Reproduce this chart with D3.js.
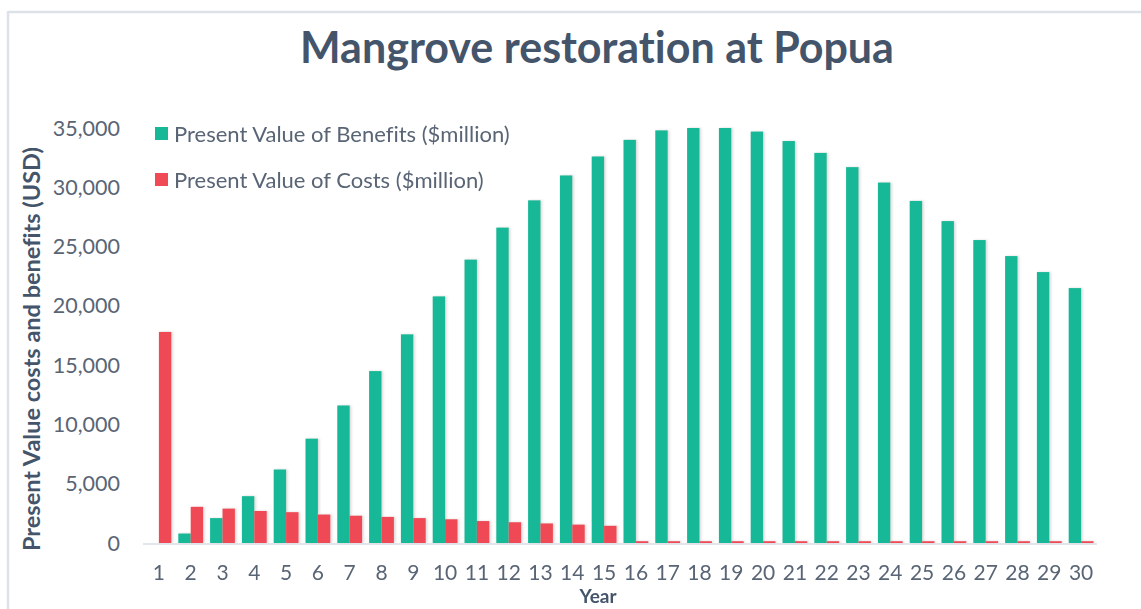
<!DOCTYPE html>
<html>
<head>
<meta charset="utf-8">
<script src="https://cdn.jsdelivr.net/npm/d3@7"></script>
<style>
  html, body { margin: 0; padding: 0; background: #fff; }
  svg { display: block; font-family: Lato, "Open Sans", sans-serif; font-variant-ligatures: none; }
</style>
</head>
<body>
<svg id="chart" width="1141" height="609"></svg>
<script>
const years = ["1","2","3","4","5","6","7","8","9","10","11","12","13","14","15","16","17","18","19","20","21","22","23","24","25","26","27","28","29","30"];
const benefits = [0, 800, 2100, 3950, 6200, 8800, 11600, 14500, 17600, 20800, 23900, 26600, 28900, 31000, 32600, 34000, 34800, 35000, 35000, 34700, 33900, 32900, 31700, 30400, 28850, 27150, 25550, 24200, 22850, 21500];
const costs = [17800, 3050, 2900, 2700, 2600, 2400, 2300, 2200, 2100, 2000, 1850, 1750, 1650, 1550, 1450, 150, 150, 150, 150, 150, 150, 150, 150, 150, 150, 150, 150, 150, 150, 150];
const seriesNames = ["Present Value of Benefits ($million)", "Present Value of Costs ($million)"];
const seriesColors = ["#17b897", "#ef4a55"];
const yTicks = [0, 5000, 10000, 15000, 20000, 25000, 30000, 35000];

const svg = d3.select("#chart");

// frame lines
svg.append("line").attr("x1", 8).attr("x2", 1141).attr("y1", 12).attr("y2", 12)
  .attr("stroke", "#dde1e9").attr("stroke-width", 2.5);
svg.append("line").attr("x1", 8).attr("x2", 8).attr("y1", 11).attr("y2", 609)
  .attr("stroke", "#dde1e9").attr("stroke-width", 2.5);

const defs = svg.append("defs");
const f = defs.append("filter").attr("id", "shadow").attr("x", "-20%").attr("y", "-5%").attr("width", "160%").attr("height", "110%");
f.append("feDropShadow").attr("dx", 1.5).attr("dy", 0).attr("stdDeviation", 1)
  .attr("flood-color", "#7a7a7a").attr("flood-opacity", 0.3);

const x = d3.scaleBand().domain(years).range([143, 1097]).paddingInner(0.22).paddingOuter(0.11);
const xs = d3.scaleBand().domain([0, 1]).range([0, x.bandwidth()]);
const y = d3.scaleLinear().domain([0, 35000]).range([543, 128]);

// title
svg.append("text").attr("x", 597).attr("y", 63).attr("text-anchor", "middle")
  .attr("font-size", 43).attr("font-weight", "bold").attr("fill", "#44546a")
  .text("Mangrove restoration at Popua");

// y axis labels
const fmt = d3.format(",");
svg.append("g").selectAll("text").data(yTicks).join("text")
  .attr("x", 120).attr("y", d => y(d)).attr("dy", "0.35em")
  .attr("text-anchor", "end").attr("font-size", 21.5).attr("fill", "#596575")
  .text(d => fmt(d));

// y axis title
svg.append("text").attr("transform", "translate(40,349) rotate(-90)")
  .attr("text-anchor", "middle").attr("font-size", 23.5).attr("font-weight", "bold").attr("fill", "#44546a")
  .text("Present Value costs and benefits (USD)");

// bars
const data = years.map((yr, i) => ({ yr, vals: [benefits[i], costs[i]] }));
const groups = svg.append("g").attr("filter", "url(#shadow)").selectAll("g").data(data).join("g")
  .attr("transform", d => `translate(${x(d.yr)},0)`);
groups.selectAll("rect").data(d => d.vals.map((v, k) => ({ v, k }))).join("rect")
  .attr("x", d => xs(d.k)).attr("width", xs.bandwidth())
  .attr("y", d => y(d.v)).attr("height", d => y(0) - y(d.v))
  .attr("fill", d => seriesColors[d.k]);

// x axis line
svg.append("line").attr("x1", 143).attr("x2", 1097).attr("y1", 544).attr("y2", 544)
  .attr("stroke", "#d9dde3").attr("stroke-width", 1.5);

// x labels
svg.append("g").selectAll("text").data(years).join("text")
  .attr("x", d => x(d) + x.bandwidth() / 2).attr("y", 573).attr("dy", "0.35em")
  .attr("text-anchor", "middle").attr("font-size", 21).attr("fill", "#596575")
  .text(d => d);

svg.append("text").attr("x", 598).attr("y", 603).attr("text-anchor", "middle")
  .attr("font-size", 19).attr("font-weight", "bold").attr("fill", "#44546a").text("Year");

// legend
const leg = svg.append("g").selectAll("g").data(seriesNames).join("g")
  .attr("transform", (d, i) => `translate(155,${127 + i * 46})`);
leg.append("rect").attr("width", 13).attr("height", 13).attr("fill", (d, i) => seriesColors[i]);
leg.append("text").attr("x", 19).attr("y", 7).attr("dy", "0.35em")
  .attr("font-size", 22).attr("fill", "#596575").text(d => d);
</script>
</body>
</html>
